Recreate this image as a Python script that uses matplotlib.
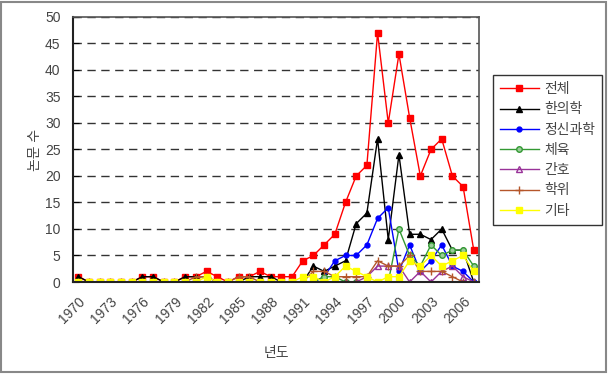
import matplotlib
matplotlib.use('Agg')
import matplotlib.pyplot as plt
from matplotlib.patches import Rectangle

plt.rcParams['font.family'] = ['Liberation Sans', 'Noto Sans CJK KR', 'DejaVu Sans']

# 연도 1970 ~ 2007
years = list(range(1970, 2008))

total = [1, 0, 0, 0, 0, 0, 1, 1, 0, 0, 1, 1, 2, 1, 0, 1, 1, 2, 1, 1,
         1, 4, 5, 7, 9, 15, 20, 22, 47, 30, 43, 31, 20, 25, 27, 20, 18, 6]
oriental = [1, 0, 0, 0, 0, 0, 1, 1, 0, 0, 1, 1, 1, 0, 0, 0, 1, 1, 1, 0,
            0, 0, 3, 2, 3, 4, 11, 13, 27, 8, 24, 9, 9, 8, 10, 6, 6, 0]
psych = [0, 0, 0, 0, 0, 0, 0, 0, 0, 0, 0, 0, 0, 0, 0, 0, 0, 0, 0, 0,
         0, 0, 0, 1, 4, 5, 5, 7, 12, 14, 2, 7, 2, 4, 7, 3, 2, 0]
sport = [0, 0, 0, 0, 0, 0, 0, 0, 0, 0, 0, 0, 0, 0, 0, 0, 0, 0, 0, 0,
         0, 0, 0, 1, 1, 0, 0, 0, 0, 0, 10, 5, 3, 7, 5, 6, 6, 3]
nursing = [0, 0, 0, 0, 0, 0, 0, 0, 0, 0, 0, 0, 0, 0, 0, 0, 0, 0, 0, 0,
           0, 0, 0, 0, 0, 0, 0, 1, 3, 3, 3, 0, 2, 0, 2, 3, 1, 0]
degree = [0, 0, 0, 0, 0, 0, 0, 0, 0, 0, 0, 1, 1, 0, 0, 1, 1, 0, 0, 0,
          0, 0, 2, 2, 1, 1, 1, 1, 4, 3, 3, 5, 2, 2, 2, 1, 0, 0]
etc = [0, 0, 0, 0, 0, 0, 0, 0, 0, 0, 0, 0, 1, 0, 0, 0, 0, 0, 0, 0,
       0, 1, 1, 0, 1, 3, 2, 1, 0, 1, 1, 4, 3, 5, 3, 4, 5, 2]

labels = ['전체', '한의학', '정신과학', '체육', '간호', '학위', '기타']

fig = plt.figure(figsize=(6.08, 3.76), dpi=100)
ax = fig.add_axes([0.120, 0.250, 0.668, 0.705])

x = list(range(len(years)))

# 시리즈별 스타일
ax.plot(x, total, color='#ff0000', marker='s', markersize=4.5, linewidth=1, label=labels[0])
ax.plot(x, oriental, color='black', marker='^', markersize=4.5, linewidth=1, label=labels[1])
ax.plot(x, psych, color='#0000ff', marker='o', markersize=3.5, linewidth=1, label=labels[2])
ax.plot(x, sport, color='#339933', marker='o', markersize=4, markerfacecolor='#99cc99',
        linewidth=1, label=labels[3])
ax.plot(x, nursing, color='#993399', marker='^', markersize=5, markerfacecolor='none',
        linewidth=1, label=labels[4])
ax.plot(x, degree, color='#b5562a', marker='+', markersize=6, linewidth=1, label=labels[5])
ax.plot(x, etc, color='#ffff00', marker='s', markersize=4, linewidth=1, label=labels[6])

ax.set_xlim(-0.5, len(years) - 0.5)
ax.set_ylim(0, 50)
ax.set_yticks(range(0, 51, 5))
ax.set_xticks(x[::3])
ax.set_xticklabels([str(y) for y in years[::3]], rotation=45, ha='right',
                   rotation_mode='anchor', fontsize=10, color='#444444')
ax.tick_params(axis='y', labelsize=10, labelcolor='#444444', direction='in', length=4, pad=9)
ax.tick_params(axis='x', length=0, pad=9)

for v in range(5, 51, 5):
    ax.axhline(v, color='#333333', linestyle=(0, (6, 4)), linewidth=1, zorder=0)

for side in ['left', 'bottom']:
    ax.spines[side].set_linewidth(1.5)
    ax.spines[side].set_color('#222222')
for side in ['top', 'right']:
    ax.spines[side].set_linewidth(1.2)
    ax.spines[side].set_color('#555555')

ax.set_ylabel('논문 수', fontsize=10, color='#444444', labelpad=2)
ax.set_xlabel('년도', fontsize=10, color='#444444', labelpad=14)

leg = fig.legend(loc='upper left', bbox_to_anchor=(0.811, 0.80), fontsize=10,
                 frameon=True, fancybox=False, edgecolor='black', borderpad=0.5,
                 borderaxespad=0, labelspacing=0.45, handlelength=2.8, handletextpad=0.4)
leg.get_frame().set_linewidth(1)
for t in leg.get_texts():
    t.set_color('#444444')

# 바깥 테두리
fig.patches.append(Rectangle((0.002, 0.01), 0.994, 0.985, transform=fig.transFigure,
                             fill=False, edgecolor='#888888', linewidth=1.5))

fig.savefig('out.png', dpi=100)
